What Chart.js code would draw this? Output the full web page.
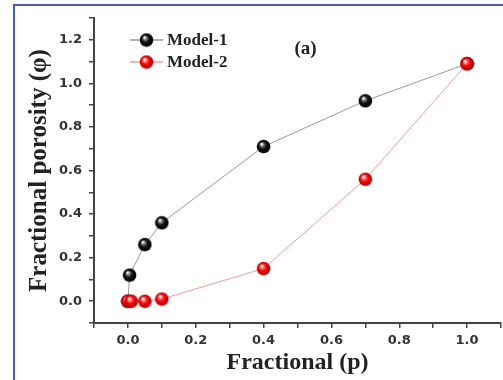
<!DOCTYPE html>
<html>
<head>
<meta charset="utf-8">
<script src="https://cdn.jsdelivr.net/npm/chart.js@4.4.1/dist/chart.umd.min.js"></script>
<style>
  html, body { margin: 0; padding: 0; background: #fff; overflow: hidden; width: 503px; height: 380px; }
  #wrap { position: relative; width: 506px; height: 380px; }
  #frame { position: absolute; left: 13px; top: 4px; width: 600px; height: 500px;
           border-left: 2px solid #4b5cc4; border-top: 2px solid #4b5cc4; }
  canvas { position: absolute; left: 0; top: 0; }
</style>
</head>
<body>
<div id="wrap">
  <div id="frame"></div>
  <canvas id="chart" width="506" height="380"></canvas>
</div>
<script>
const model1X = [0, 0.005, 0.05, 0.1, 0.4, 0.7, 1.0];
const model1Y = [0, 0.12, 0.26, 0.36, 0.71, 0.92, 1.09];
const model2X = [0, 0.01, 0.05, 0.1, 0.4, 0.7, 1.0];
const model2Y = [0, 0, 0, 0.01, 0.15, 0.56, 1.09];
const xTickLabels = [0, 0.2, 0.4, 0.6, 0.8, 1.0];
const yTickLabels = [0, 0.2, 0.4, 0.6, 0.8, 1.0, 1.2];

const serif = "'Liberation Serif', 'Times New Roman', serif";
const sans = "'DejaVu Sans', sans-serif";

// little shaded ball used as marker
function ball(light, mid, dark) {
  const c = document.createElement("canvas");
  c.width = 15;
  c.height = 15;
  const g = c.getContext("2d");
  const grad = g.createRadialGradient(5.5, 5, 0.5, 7.5, 7.5, 7);
  grad.addColorStop(0, "#ffffff");
  grad.addColorStop(0.22, light);
  grad.addColorStop(0.5, mid);
  grad.addColorStop(1, dark);
  g.beginPath();
  g.arc(7.5, 7.5, 6.8, 0, Math.PI * 2);
  g.fillStyle = grad;
  g.fill();
  return c;
}
const blackBall = ball("#777777", "#111111", "#000000");
const redBall = ball("#ff7070", "#ee0a0a", "#b00000");

function pts(xs, ys) {
  return xs.map((x, i) => ({ x: x, y: ys[i] }));
}

function labelFor(list) {
  return (v) => (list.some((t) => Math.abs(t - v) < 1e-6) ? v.toFixed(1) : "");
}

const legendPlugin = {
  id: "insideLegend",
  afterDraw(chart) {
    const ctx = chart.ctx;
    ctx.save();
    chart.data.datasets.forEach((ds, i) => {
      const y = 40 + i * 22;
      ctx.strokeStyle = ds.borderColor;
      ctx.lineWidth = 1.5;
      ctx.beginPath();
      ctx.moveTo(130, y);
      ctx.lineTo(163, y);
      ctx.stroke();
      ctx.drawImage(ds.pointStyle, 146.5 - 7.5, y - 7.5);
      ctx.fillStyle = "#222";
      ctx.font = "bold 17px " + serif;
      ctx.textBaseline = "middle";
      ctx.textAlign = "left";
      ctx.fillText(ds.label, 167, y + 1);
    });
    ctx.font = "bold 19px " + serif;
    ctx.textAlign = "center";
    ctx.fillText("(a)", 305.5, 49);
    ctx.restore();
  },
};

new Chart(document.getElementById("chart"), {
  type: "line",
  data: {
    datasets: [
      {
        label: "Model-1",
        data: pts(model1X, model1Y),
        borderColor: "#9a9a9a",
        borderWidth: 1,
        pointStyle: blackBall,
        order: 2,
      },
      {
        label: "Model-2",
        data: pts(model2X, model2Y),
        borderColor: "#f29a9a",
        borderWidth: 1,
        pointStyle: redBall,
        order: 1,
      },
    ],
  },
  options: {
    responsive: false,
    animation: false,
    layout: { padding: { top: 18, right: 1.5, left: 0, bottom: 0 } },
    plugins: { legend: { display: false }, tooltip: { enabled: false } },
    elements: { line: { tension: 0 } },
    scales: {
      x: {
        type: "linear",
        min: -0.1,
        max: 1.1,
        afterFit: (s) => { s.height = 57; },
        ticks: {
          stepSize: 0.1,
          autoSkip: false,
          maxRotation: 0,
          padding: 5,
          color: "#333",
          font: { family: sans, size: 13, weight: "bold" },
          callback: labelFor(xTickLabels),
        },
        grid: { drawOnChartArea: false, color: "#444", tickLength: 5, lineWidth: 1.5 },
        border: { color: "#444", width: 2 },
        title: {
          display: true,
          text: "Fractional (p)",
          color: "#222",
          font: { family: serif, size: 24, weight: "bold" },
          padding: { top: 0, bottom: 2.6 },
        },
      },
      y: {
        min: -0.1,
        max: 1.3,
        afterFit: (s) => { s.width = 94; },
        ticks: {
          stepSize: 0.1,
          autoSkip: false,
          padding: 7,
          color: "#333",
          font: { family: sans, size: 13, weight: "bold" },
          callback: labelFor(yTickLabels),
        },
        grid: { drawOnChartArea: false, color: "#444", tickLength: 5, lineWidth: 1.5 },
        border: { color: "#444", width: 2 },
        title: {
          display: true,
          text: "Fractional porosity (φ)",
          color: "#222",
          font: { family: serif, size: 25, weight: "bold" },
          padding: { top: 25, bottom: 0 },
        },
      },
    },
  },
  plugins: [legendPlugin],
});
</script>
</body>
</html>
